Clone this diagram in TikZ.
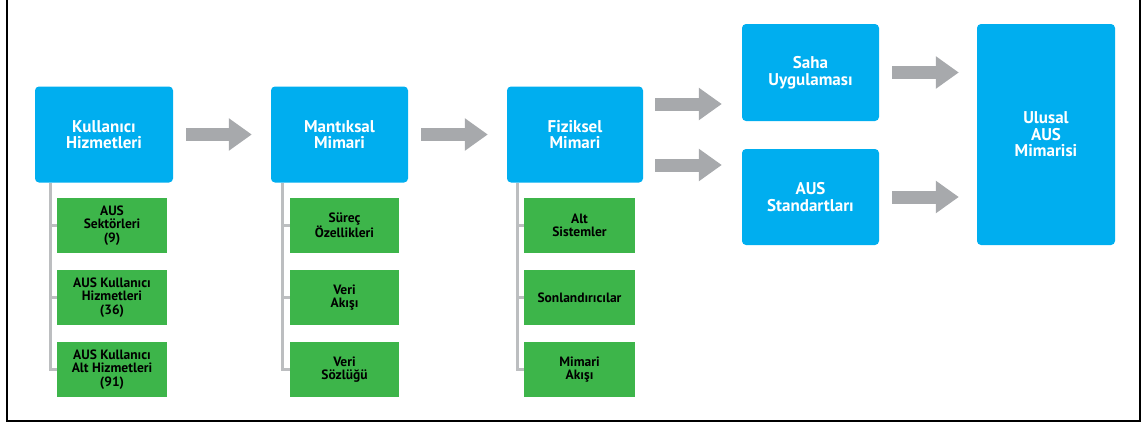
\documentclass[tikz,border=0pt]{standalone}
\usepackage{fontspec}
\setmainfont{PT Sans}
\usetikzlibrary{arrows.meta,calc}
\definecolor{boxblue}{HTML}{00AEEF}
\definecolor{boxgreen}{HTML}{3DB54A}
\definecolor{arrowgray}{HTML}{A7A9AC}
\definecolor{linegray}{HTML}{BCBEC0}
\tikzset{
  bluebox/.style={fill=boxblue, rounded corners=4pt, text=white, align=center,
    font=\bfseries\fontsize{17}{16.5}\selectfont, inner sep=0pt},
  greenbox/.style={fill=boxgreen, text=black, align=center,
    font=\bfseries\fontsize{13.5}{13.5}\selectfont, inner sep=0pt,
    minimum width=110pt, minimum height=55pt},
  blockarrow/.style={draw=arrowgray, line width=13pt,
    -{Triangle[length=23pt,width=31pt]}},
  branch/.style={draw=linegray, line width=3pt},
  frameline/.style={draw=black, line width=1.6pt}
}
\begin{document}
\begin{tikzpicture}[x=1pt,y=-1pt]
\useasboundingbox (0,0) rectangle (1146,423);
\draw[frameline] (7,0) -- (7,421) -- (1140,421) -- (1140,0);

% main stages
\node[bluebox, minimum width=138pt, minimum height=96pt] (ku) at (104,134.5) {Kullanıcı\\Hizmetleri};
\node[bluebox, minimum width=137pt, minimum height=96pt] (mm) at (339.5,134.5) {Mantıksal\\Mimari};
\node[bluebox, minimum width=136pt, minimum height=96pt] (fm) at (575,134.5) {Fiziksel\\Mimari};
\node[bluebox, minimum width=137pt, minimum height=97pt] (sa) at (810.5,72.5) {Saha\\Uygulaması};
\node[bluebox, minimum width=137pt, minimum height=96pt] (st) at (810.5,197) {AUS\\Standartları};
\node[bluebox, minimum width=138pt, minimum height=221pt] (ul) at (1046,134.5) {Ulusal\\AUS\\Mimarisi};

% sub-items
\node[greenbox] (k1) at (112,225.5) {AUS\\Sektörleri\\(9)};
\node[greenbox] (k2) at (112,297.5) {AUS Kullanıcı\\Hizmetleri\\(36)};
\node[greenbox] (k3) at (112,369.5) {AUS Kullanıcı\\Alt Hizmetleri\\(91)};
\node[greenbox, minimum width=109pt] (m1) at (344.5,225.5) {Süreç\\Özellikleri};
\node[greenbox, minimum width=109pt] (m2) at (344.5,297.5) {Veri\\Akışı};
\node[greenbox, minimum width=109pt] (m3) at (344.5,369.5) {Veri\\Sözlüğü};
\node[greenbox, minimum width=111pt] (f1) at (579.5,225.5) {Alt\\Sistemler};
\node[greenbox, minimum width=111pt] (f2) at (579.5,297.5) {Sonlandırıcılar};
\node[greenbox, minimum width=111pt] (f3) at (579.5,369.5) {Mimari\\Akışı};

% tree branches
\draw[branch] (ku.south -| 50,0) |- (k3.west);
\draw[branch] (k1.west) -- (k1.west -| 50,0);
\draw[branch] (k2.west) -- (k2.west -| 50,0);
\draw[branch] (mm.south -| 282,0) |- (m3.west);
\draw[branch] (m1.west) -- (m1.west -| 282,0);
\draw[branch] (m2.west) -- (m2.west -| 282,0);
\draw[branch] (fm.south -| 517,0) |- (f3.west);
\draw[branch] (f1.west) -- (f1.west -| 517,0);
\draw[branch] (f2.west) -- (f2.west -| 517,0);

% flow arrows
\draw[blockarrow] ([xshift=13pt]ku.east) -- ([xshift=-19pt]mm.west);
\draw[blockarrow] ([xshift=13pt]mm.east) -- ([xshift=-19pt]fm.west);
\draw[blockarrow] ([xshift=12pt,yshift=30.5pt]fm.east) -- ([xshift=-20pt,yshift=30.5pt]fm.east -| sa.west);
\draw[blockarrow] ([xshift=12pt,yshift=-30.5pt]fm.east) -- ([xshift=-20pt,yshift=-30.5pt]fm.east -| st.west);
\draw[blockarrow] ([xshift=13pt]sa.east) -- ([xshift=-18pt]sa.east -| ul.west);
\draw[blockarrow] ([xshift=13pt]st.east) -- ([xshift=-18pt]st.east -| ul.west);
\end{tikzpicture}
\end{document}
